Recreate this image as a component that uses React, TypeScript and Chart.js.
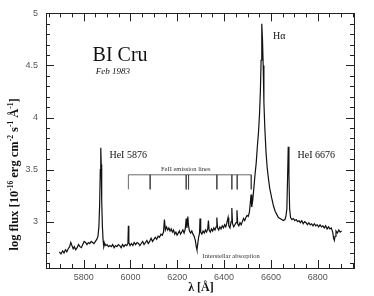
import React, { useEffect, useRef } from "react";
import { Chart, registerables } from "chart.js";

Chart.register(...registerables);

// Spectrum of BI Cru, Feb 1983 (wavelength in Å, log flux)
const wavelength = [
  5696, 5703, 5710, 5716, 5722, 5728, 5734, 5740, 5745, 5750, 5755, 5760, 5766, 5772, 5778, 5784, 5790, 5796,
  5802, 5808, 5814, 5820, 5826, 5832, 5838, 5844, 5850, 5856, 5861, 5865, 5868, 5871, 5873, 5875, 5877, 5880,
  5883, 5886, 5890, 5895, 5900, 5906, 5912, 5918, 5924, 5930, 5936, 5942, 5948, 5954, 5960, 5966, 5972, 5978,
  5984, 5989, 5991, 5993, 5998, 6004, 6010, 6016, 6022, 6028, 6034, 6040, 6046, 6052, 6058, 6064, 6070, 6076,
  6082, 6088, 6094, 6100, 6106, 6112, 6118, 6124, 6130, 6136, 6141, 6145, 6149, 6154, 6159, 6164, 6169, 6174,
  6179, 6184, 6189, 6194, 6199, 6204, 6209, 6214, 6219, 6224, 6229, 6234, 6238, 6241, 6245, 6248, 6252, 6257,
  6262, 6267, 6272, 6277, 6281, 6284, 6287, 6291, 6295, 6297, 6300, 6305, 6310, 6315, 6320, 6325, 6330, 6333,
  6336, 6341, 6346, 6351, 6356, 6361, 6366, 6369, 6372, 6377, 6382, 6387, 6392, 6397, 6402, 6407, 6412, 6417,
  6420, 6425, 6430, 6433, 6436, 6441, 6446, 6451, 6455, 6458, 6463, 6468, 6473, 6478, 6483, 6488, 6493, 6498,
  6503, 6508, 6512, 6515, 6518, 6522, 6527, 6532, 6537, 6542, 6547, 6551, 6555, 6558, 6561, 6564, 6567, 6570,
  6574, 6579, 6584, 6589, 6595, 6603, 6610, 6618, 6625, 6632, 6639, 6646, 6653, 6660, 6664, 6668, 6671, 6674,
  6677, 6680, 6684, 6690, 6696, 6702, 6708, 6714, 6720, 6726, 6732, 6738, 6744, 6750, 6756, 6762, 6768, 6774,
  6780, 6786, 6792, 6798, 6804, 6810, 6816, 6822, 6828, 6834, 6840, 6846, 6852, 6858, 6864, 6868, 6871, 6874,
  6878, 6884, 6890, 6896, 6902,
];
const logFlux = [
  2.71, 2.69, 2.72, 2.7, 2.73, 2.71, 2.74, 2.76, 2.8, 2.77, 2.74, 2.76, 2.73, 2.75, 2.78, 2.76, 2.75, 2.78,
  2.81, 2.8, 2.78, 2.8, 2.79, 2.81, 2.8, 2.79, 2.81, 2.83, 2.86, 2.95, 3.15, 3.5, 3.71, 3.55, 3.2, 2.95,
  2.82, 2.76, 2.79, 2.77, 2.78, 2.76, 2.77, 2.76, 2.78, 2.75, 2.77, 2.76, 2.78, 2.77, 2.75, 2.78, 2.76, 2.78,
  2.77, 2.79, 2.96, 2.8, 2.77, 2.79, 2.77, 2.8, 2.78, 2.8, 2.79, 2.77, 2.79, 2.81, 2.78, 2.8, 2.82, 2.79,
  2.81, 2.84, 2.81, 2.83, 2.85, 2.83, 2.86, 2.85, 2.88, 2.87, 2.9, 3.02, 2.92, 2.95, 2.92, 2.94, 2.91, 2.93,
  2.9, 2.92, 2.88, 2.9, 2.87, 2.89, 2.91, 2.88, 2.9, 2.92, 2.89, 2.93, 3.03, 2.94, 3.05, 2.96, 2.91, 2.89,
  2.91, 2.88, 2.86, 2.82, 2.76, 2.73, 2.78, 2.85, 2.89, 3.03, 2.9, 2.88, 2.91, 2.89, 2.92, 2.9, 2.93, 3.01,
  2.92, 2.9, 2.93, 2.91, 2.94, 2.92, 2.95, 3.04, 2.94, 2.92, 2.95, 2.93, 2.96, 2.94, 2.97, 2.95, 2.99, 3.04,
  2.96, 2.94, 3.0, 3.13, 2.98, 2.95, 2.97, 2.99, 3.11, 2.98, 2.96, 2.99, 2.97, 3.0, 3.03, 3.01, 3.04, 3.06,
  3.05, 3.09, 3.18, 3.26, 3.14, 3.2, 3.32, 3.45, 3.56, 3.72, 3.86, 4.02, 4.25, 4.55, 4.9, 4.75, 4.5, 4.15,
  3.9, 3.67, 3.52, 3.42, 3.32, 3.23, 3.16, 3.1, 3.07, 3.04, 3.03, 3.02, 3.01, 3.02, 3.05, 3.12, 3.4, 3.72,
  3.45, 3.12, 3.04, 3.02, 3.03, 3.01, 3.02, 3.0, 3.01, 2.99, 3.01, 2.98, 3.0, 2.99, 2.97, 2.99, 2.97, 2.98,
  2.96, 2.98, 2.96, 2.97, 2.95, 2.97, 2.95, 2.96, 2.94, 2.96, 2.93, 2.95, 2.93, 2.94, 2.9, 2.84, 2.82, 2.86,
  2.91, 2.89, 2.92, 2.9, 2.91,
];

// Fe II emission line markers (Å)
const feiiLines = [5991, 6084, 6238, 6248, 6369, 6433, 6456, 6516];
const feiiTop = 3.45;
const feiiBottom = 3.31;

// axis ranges and ticks
const xMin = 5639;
const xMax = 6955;
const yMin = 2.555;
const yMax = 5;
const xLabelStep = 200;
const xMinorStep = 50;
const yLabelStep = 0.5;
const yMinorStep = 0.1;

const serif = "'Liberation Serif', 'DejaVu Serif', serif";
const sans = "'Liberation Sans', Arial, sans-serif";

const overlay = {
  id: "overlay",
  afterDatasetsDraw(chart: any) {
    const { ctx, chartArea: a, scales } = chart;
    const x = scales.x;
    const y = scales.y;
    ctx.save();
    ctx.strokeStyle = "#222";
    ctx.lineWidth = 1;
    // frame
    ctx.strokeRect(Math.round(a.left) + 0.5, Math.round(a.top) + 0.5, Math.round(a.right - a.left), Math.round(a.bottom - a.top));
    ctx.beginPath();
    // x ticks (top & bottom, inward)
    for (let v = Math.ceil(xMin / xMinorStep) * xMinorStep; v <= xMax; v += xMinorStep) {
      const px = Math.round(x.getPixelForValue(v)) + 0.5;
      const len = v % xLabelStep === 0 ? 8 : 4;
      ctx.moveTo(px, a.bottom);
      ctx.lineTo(px, a.bottom - len);
      ctx.moveTo(px, a.top);
      ctx.lineTo(px, a.top + len);
    }
    // y ticks (left & right, inward)
    for (let i = Math.ceil(yMin / yMinorStep); i * yMinorStep <= yMax + 1e-9; i++) {
      const v = i * yMinorStep;
      const py = Math.round(y.getPixelForValue(v)) + 0.5;
      const len = i % 5 === 0 ? 8 : 4;
      ctx.moveTo(a.left, py);
      ctx.lineTo(a.left + len, py);
      ctx.moveTo(a.right, py);
      ctx.lineTo(a.right - len, py);
    }
    ctx.stroke();

    ctx.fillStyle = "#111";
    const txt = (s: string, lx: number, ly: number, font: string, align: CanvasTextAlign = "left") => {
      ctx.font = font;
      ctx.textAlign = align;
      ctx.textBaseline = "alphabetic";
      ctx.fillText(s, x.getPixelForValue(lx), y.getPixelForValue(ly));
    };
    txt("BI Cru", 5838, 4.54, `20px ${serif}`);
    txt("Feb 1983", 5852, 4.42, `italic 9px ${serif}`);
    txt("H\u03B1", 6609, 4.757, `10px ${serif}`);
    txt("HeI 5876", 5910, 3.61, `10px ${serif}`);
    txt("HeI 6676", 6714, 3.61, `10px ${serif}`);
    ctx.fillStyle = "#333";
    txt("FeII emission lines", 6236, 3.49, `6.5px ${serif}`, "center");
    txt("Interstellar absorption", 6430, 2.647, `6.5px ${serif}`, "center");

    // x-axis title
    ctx.fillStyle = "#111";
    ctx.font = `bold 12px ${serif}`;
    ctx.textAlign = "center";
    ctx.textBaseline = "middle";
    ctx.fillText("\u03BB [\u00C5]", (a.left + a.right) / 2 + 1, a.bottom + 20);

    // y-axis title with superscripts
    const parts: [string, boolean][] = [
      ["log flux [10", false], ["-16", true], [" erg cm", false], ["-2", true],
      [" s", false], ["-1", true], [" \u00C5", false], ["-1", true], ["]", false],
    ];
    const mainFont = `bold 12.5px ${serif}`;
    const supFont = `bold 7.5px ${serif}`;
    let total = 0;
    for (const [s, sup] of parts) {
      ctx.font = sup ? supFont : mainFont;
      total += ctx.measureText(s).width;
    }
    ctx.translate(a.left - 31, a.top + 161);
    ctx.rotate(-Math.PI / 2);
    ctx.textAlign = "left";
    ctx.textBaseline = "middle";
    let cx = -total / 2;
    for (const [s, sup] of parts) {
      ctx.font = sup ? supFont : mainFont;
      ctx.fillText(s, cx, sup ? -4 : 0);
      cx += ctx.measureText(s).width;
    }
    ctx.restore();
  },
};

export default function App() {
  const ref = useRef<HTMLCanvasElement | null>(null);
  useEffect(() => {
    if (!ref.current) return;
    const spectrum = wavelength.map((w, i) => ({ x: w, y: logFlux[i] }));
    const bracket: { x: number; y: number | null }[] = [];
    const first = feiiLines[0];
    const last = feiiLines[feiiLines.length - 1];
    bracket.push({ x: first, y: feiiBottom }, { x: first, y: feiiTop }, { x: last, y: feiiTop }, { x: last, y: feiiBottom });
    feiiLines.slice(1, -1).forEach((l) => {
      bracket.push({ x: l, y: null }, { x: l, y: feiiTop }, { x: l, y: feiiBottom });
    });
    const chart = new Chart(ref.current, {
      type: "line",
      data: {
        datasets: [
          {
            data: spectrum,
            borderColor: "#111",
            borderWidth: 1.2,
            pointRadius: 0,
            tension: 0,
          },
          {
            data: bracket as any,
            borderColor: "#444",
            borderWidth: 0.8,
            pointRadius: 0,
            tension: 0,
            spanGaps: false,
          },
        ],
      },
      options: {
        animation: false,
        responsive: false,
        devicePixelRatio: 1,
        layout: { padding: { left: 0, top: 9, right: 20, bottom: 0 } },
        plugins: { legend: { display: false }, tooltip: { enabled: false } },
        scales: {
          x: {
            type: "linear",
            min: xMin,
            max: xMax,
            afterFit: (s: any) => { s.height = 28; },
            grid: { display: false, drawTicks: false },
            border: { display: false },
            ticks: {
              stepSize: xLabelStep,
              includeBounds: false,
              autoSkip: false,
              maxRotation: 0,
              padding: 4,
              color: "#555",
              font: { family: sans, size: 9 },
              callback: (v: any) => (Number(v) % xLabelStep === 0 ? String(v) : ""),
            },
          },
          y: {
            type: "linear",
            min: yMin,
            max: yMax,
            afterFit: (s: any) => { s.width = 46; },
            grid: { display: false, drawTicks: false },
            border: { display: false },
            ticks: {
              stepSize: yLabelStep,
              includeBounds: false,
              padding: 8,
              color: "#555",
              font: { family: sans, size: 9 },
              callback: (v: any) => String(v),
            },
          },
        },
      },
      plugins: [overlay],
    });
    return () => chart.destroy();
  }, []);
  return (
    <div style={{ position: "absolute", left: 0, top: 0, width: 374, height: 296, background: "#fff" }}>
      <canvas ref={ref} width={374} height={296} />
    </div>
  );
}
